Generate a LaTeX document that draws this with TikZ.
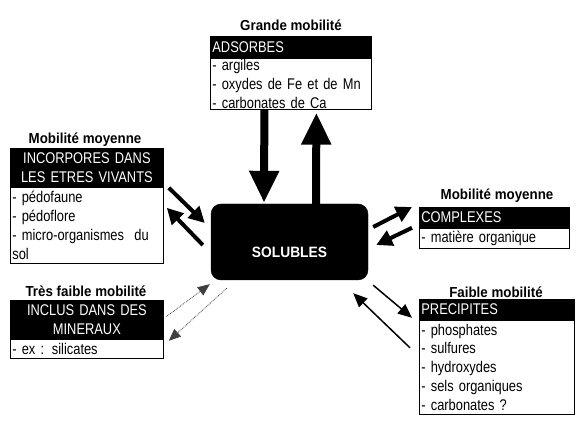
\documentclass[tikz,border=0pt]{standalone}
\usepackage{fontspec}
\setmainfont{Liberation Sans}[FakeStretch=0.83]
\newfontfamily\titrefont{Liberation Sans}[FakeStretch=0.92]
\usetikzlibrary{arrows.meta}
\begin{document}
\begin{tikzpicture}[x = 1pt, y = -1pt,
	titre/.style = {font = \titrefont\bfseries\fontsize{14.5}{16}\selectfont},
	entete/.style = {draw, line width = 0.8pt, fill = black, text = white, anchor = north west, inner xsep = 2pt, inner ysep = 0pt, font = \fontsize{15.5}{19}\selectfont},
	corps/.style = {draw, line width = 0.8pt, fill = white, anchor = north west, align = left, inner xsep = 2pt, inner ysep = 0pt, font = \fontsize{15.5}{18.8}\selectfont},
	gros/.style = {line width = 8pt, -{Triangle[width = 28pt, length = 32pt]}},
	moyen/.style = {line width = 4pt, -{Triangle[width = 16pt, length = 16pt]}},
	fin/.style = {line width = 1.5pt, -{Triangle[width = 12pt, length = 14pt]}},
	pointille/.style = {line width = 0.8pt, black!75, densely dotted, -{Triangle[width = 10pt, length = 12pt]}}]
	\fill [white] (0,0) rectangle (584,427);
	\useasboundingbox (0,0) rectangle (584,427);
	% boite centrale
	\node [draw, fill = black, rounded corners = 10pt, minimum width = 157pt, minimum height = 76pt] (sol) at (289.5,242) {};
	\node [text = white, font = \titrefont\bfseries\fontsize{15}{16}\selectfont] (solTxt) at ([yshift = -10pt]sol.center) {SOLUBLES};
	% adsorbes
	\node [titre] (tAds) at (291,25) {Grande mobilité};
	\node [entete, text width = 157pt, minimum height = 21pt, align = left] (hAds) at (210,36) {ADSORBES};
	\node [corps, text width = 157pt, minimum height = 51pt] (bAds) at (hAds.south west) {- argiles\\- oxydes de Fe et de Mn\\- carbonates de Ca};
	% incorpores
	\node [titre] (tInc) at (85,140) {Mobilité moyenne};
	\node [entete, text width = 149pt, minimum height = 38pt, align = center] (hInc) at (10,148) {INCORPORES DANS\\LES ETRES VIVANTS};
	\node [corps, text width = 149pt, minimum height = 76pt] (bInc) at (hInc.south west) {- pédofaune\\- pédoflore\\- micro-organismes\ \ du\\sol};
	% complexes
	\node [titre] (tCom) at (497,196) {Mobilité moyenne};
	\node [entete, text width = 146pt, minimum height = 20pt, align = left] (hCom) at (419,207) {COMPLEXES};
	\node [corps, text width = 146pt, minimum height = 20pt] (bCom) at (hCom.south west) {- matière organique};
	% inclus
	\node [titre] (tIncl) at (86,291) {Très faible mobilité};
	\node [entete, text width = 149pt, minimum height = 38pt, align = center] (hIncl) at (10,300) {INCLUS DANS DES\\MINERAUX};
	\node [corps, text width = 149pt, minimum height = 19pt] (bIncl) at (hIncl.south west) {- ex : silicates};
	% precipites
	\node [titre] (tPre) at (496,292) {Faible mobilité};
	\node [entete, text width = 151pt, minimum height = 20pt, align = left] (hPre) at (419,299) {PRECIPITES};
	\node [corps, text width = 151pt, minimum height = 94pt] (bPre) at (hPre.south west) {- phosphates\\- sulfures\\- hydroxydes\\- sels organiques\\- carbonates ?};
	% fleches
	\draw [gros] ([xshift = -26.5pt]bAds.south) -- ([xshift = -25.5pt, yshift = 1pt]sol.north);
	\draw [gros] ([xshift = 26.5pt]sol.north) -- ([xshift = 25.5pt, yshift = -3pt]bAds.south);
	\draw [moyen] ([xshift = 5pt, yshift = -1pt]bInc.north east) -- ([xshift = -6pt, yshift = 19pt]sol.west);
	\draw [moyen] ([xshift = -8pt, yshift = -3pt]sol.west) -- ([xshift = 3pt, yshift = -21pt]bInc.north east);
	\draw [moyen] ([xshift = 5pt, yshift = 15pt]sol.east) -- ([xshift = -7pt]hCom.north west);
	\draw [moyen] ([xshift = -7pt]hCom.south west) -- ([xshift = 8pt, yshift = -3pt]sol.east);
	\draw [pointille] ([xshift = 2pt, yshift = -17pt]hIncl.north east) -- ([xshift = -1pt, yshift = -4pt]sol.south west);
	\draw [pointille] ([xshift = 16pt, yshift = -8pt]sol.south west) -- ([xshift = 5pt, yshift = -2pt]hIncl.south east);
	\draw [fin] ([xshift = 5pt, yshift = -5pt]sol.south east) -- ([xshift = -7pt, yshift = 2pt]hPre.south west);
	\draw [fin] ([xshift = -9pt, yshift = -28pt]hPre.south west) -- ([xshift = -15pt, yshift = -13pt]sol.south east);
\end{tikzpicture}
\end{document}
